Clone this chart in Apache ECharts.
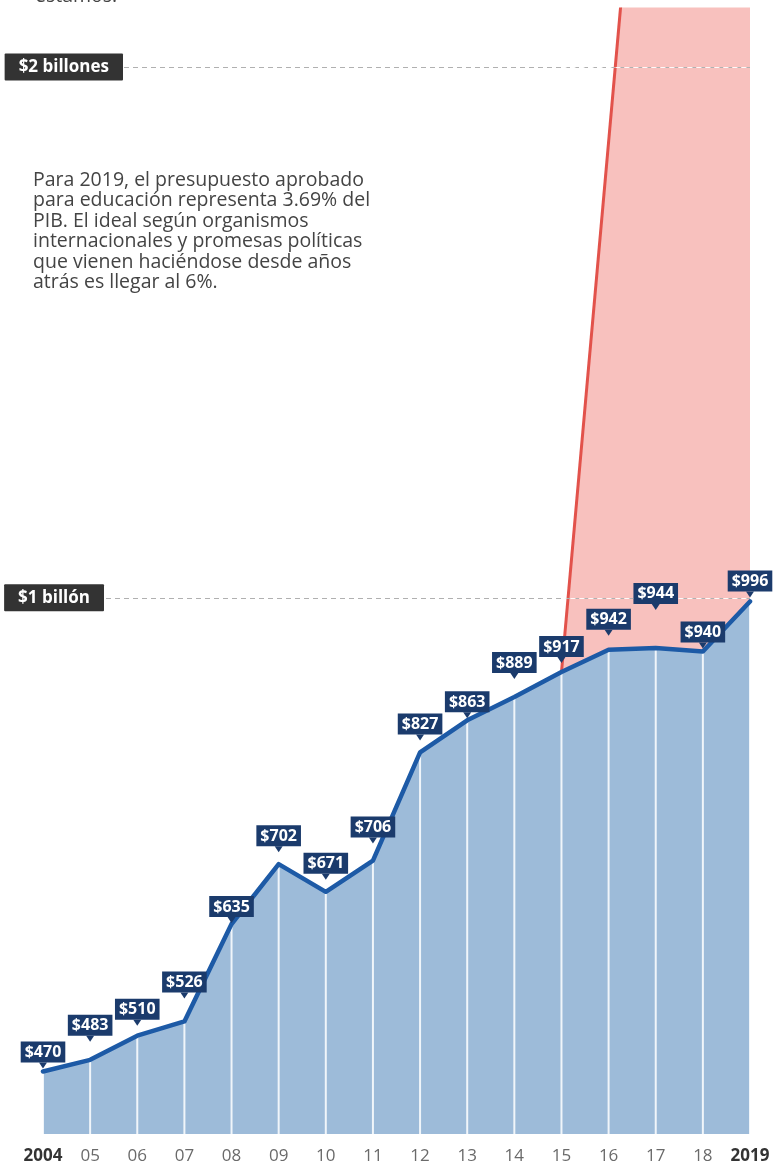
<!DOCTYPE html>
<html>
<head>
<meta charset="utf-8">
<script src="https://cdn.jsdelivr.net/npm/echarts@6/dist/echarts.min.js"></script>
<style>
html,body{margin:0;padding:0;background:#fff;}
#c{width:774px;height:1168px;}
</style>
</head>
<body>
<div id="c"></div>
<script>
// ---- data ----
const years = ['2004','2005','2006','2007','2008','2009','2010','2011','2012','2013','2014','2015','2016','2017','2018','2019'];
const tickLabels = ['2004','05','06','07','08','09','10','11','12','13','14','15','16','17','18','2019'];
const budget = [470, 483, 510, 526, 635, 702, 671, 706, 827, 863, 889, 917, 942, 944, 940, 996];
const ideal = [null, null, null, null, null, null, null, null, null, null, null, 917, null, null, null, 3696];
const refValues = [1000, 2000];
const refLabels = ['$1 billón', '$2 billones'];
const noteLines = [
  'Para 2019, el presupuesto aprobado',
  'para educación representa 3.69% del',
  'PIB. El ideal según organismos',
  'internacionales y promesas políticas',
  'que vienen haciéndose desde años',
  'atrás es llegar al 6%.'
];
const topText = 'estamos.';

// ---- styles ----
const FONT = '"Open Sans", "Noto Sans", sans-serif';
const NAVY = '#1b3b6c';
const BLUE_LINE = '#1d5aa6';
const BLUE_AREA = '#9dbbd9';
const RED_LINE = '#e2524b';
const RED_AREA = '#f8c1be';
// vertical lift (px) of each value tag above its point (layout only)
const labelLift = [9, 24, 16, 29, 7, 18, 18, 23, 18, 8, 24, 15, 20, 44, 9, 10];
const refLabelDist = [-61, -80];

const chart = echarts.init(document.getElementById('c'), null, {renderer: 'canvas'});

const tagData = budget.map((v, i) => ({
  value: v,
  symbolOffset: [0, -(labelLift[i] - 3)]
}));

chart.setOption({
  animation: false,
  backgroundColor: '#fff',
  textStyle: {fontFamily: FONT},
  grid: {left: 43, right: 24, top: 9, bottom: 34, containLabel: false},
  xAxis: {
    type: 'category',
    data: years,
    boundaryGap: false,
    axisLine: {show: false},
    axisTick: {show: false},
    splitLine: {show: false},
    axisLabel: {
      interval: 0,
      margin: 14,
      formatter: function (v, i) {
        const t = tickLabels[i];
        return (i === 0 || i === tickLabels.length - 1) ? '{b|' + t + '}' : '{n|' + t + '}';
      },
      rich: {
        b: {fontFamily: FONT, fontSize: 17, fontWeight: 'bold', color: '#333'},
        n: {fontFamily: FONT, fontSize: 17, color: '#6a6a6a'}
      }
    }
  },
  yAxis: {
    type: 'value',
    min: 400,
    max: 2065,
    breaks: [{start: 1050, end: 1950, gap: 494}],
    breakArea: {show: false},
    axisLine: {show: false},
    axisTick: {show: false},
    axisLabel: {show: false},
    splitLine: {show: false}
  },
  graphic: [
    {
      type: 'text', left: 35, top: -14, silent: true,
      style: {text: topText, font: '19.5px ' + FONT, fill: '#444'}
    },
    {
      type: 'text', left: 33, top: 170, silent: true,
      style: {text: noteLines.join('\n'), font: '19.5px ' + FONT, lineHeight: 20.5, fill: '#444'}
    }
  ],
  series: [
    {
      // grey reference lines (under the red area)
      name: 'ref',
      type: 'line',
      data: budget,
      z: 0,
      symbol: 'none',
      silent: true,
      lineStyle: {opacity: 0},
      markLine: {
        silent: true,
        symbol: ['none', 'none'],
        lineStyle: {type: [5, 4], color: '#b0b0b0', width: 1},
        label: {
          position: 'start',
          color: '#fff',
          fontFamily: FONT,
          fontSize: 17,
          fontWeight: 'bold',
          backgroundColor: '#333',
          padding: [5, 14, 5, 14],
          borderRadius: 1
        },
        data: refValues.map((v, i) => ({
          yAxis: v,
          label: {formatter: refLabels[i], distance: refLabelDist[i]}
        }))
      }
    },
    {
      name: 'ideal',
      type: 'line',
      data: ideal,
      connectNulls: true,
      z: 1,
      symbol: 'none',
      silent: true,
      lineStyle: {color: RED_LINE, width: 3},
      areaStyle: {color: RED_AREA, opacity: 1}
    },
    {
      // white dashes over the red area
      name: 'refWhite',
      type: 'line',
      data: budget,
      z: 2,
      symbol: 'none',
      silent: true,
      lineStyle: {opacity: 0},
      markLine: {
        silent: true,
        symbol: ['none', 'none'],
        label: {show: false},
        lineStyle: {type: [5, 4], color: 'rgba(255,255,255,0.9)', width: 1},
        data: refValues.map(v => [{xAxis: '2015', yAxis: v}, {xAxis: '2019', yAxis: v}])
      }
    },
    {
      name: 'area',
      type: 'line',
      data: budget,
      z: 3,
      symbol: 'none',
      silent: true,
      lineStyle: {width: 0},
      areaStyle: {color: BLUE_AREA, opacity: 1}
    },
    {
      name: 'dividers',
      type: 'bar',
      data: budget,
      z: 4,
      barWidth: 2,
      silent: true,
      itemStyle: {color: 'rgba(255,255,255,0.85)'}
    },
    {
      name: 'presupuesto',
      type: 'line',
      data: budget,
      z: 5,
      symbol: 'none',
      silent: true,
      lineStyle: {color: BLUE_LINE, width: 4.5, join: 'round', cap: 'round'}
    },
    {
      name: 'labels',
      type: 'scatter',
      data: tagData,
      z: 6,
      silent: true,
      symbol: 'triangle',
      symbolRotate: 180,
      symbolSize: [8, 6],
      itemStyle: {color: NAVY, opacity: 1},
      label: {
        show: true,
        position: 'top',
        distance: 0,
        formatter: p => '$' + p.value,
        color: '#fff',
        fontFamily: FONT,
        fontSize: 16,
        fontWeight: 'bold',
        lineHeight: 18,
        backgroundColor: NAVY,
        padding: [2, 4, 1, 4]
      }
    }
  ]
});
</script>
</body>
</html>
